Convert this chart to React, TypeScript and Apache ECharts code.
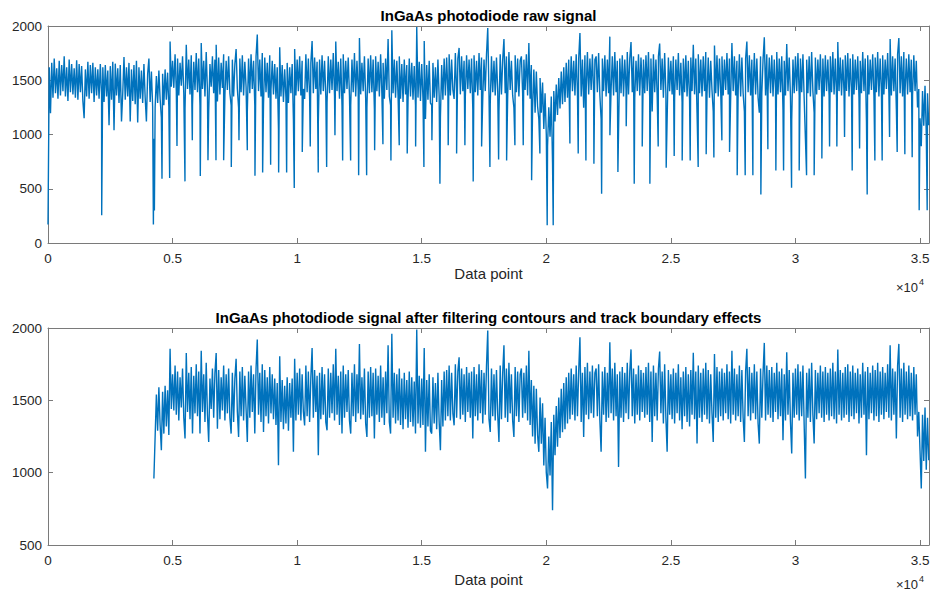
import React, { useEffect, useRef } from "react";
import * as echarts from "echarts";

// sample spacing of the band values (data points)
const STEP = 50;
const X_MAX = 35360;
const FILTER_START = 4250;

// photodiode signal band (one value every STEP data points)
const rawBand: number[] = [
  170, 1620, 1195, 1660, 1340, 1700, 1380, 1610, 1330, 1680, 1360, 1640, 1400, 1720, 1350, 1620, 1310, 1690, 1390, 1650,
  1370, 1610, 1340, 1684, 1320, 1650, 1390, 1630, 1310, 1150, 1600, 1350, 1670, 1330, 1640, 1380, 1660, 1300, 1620, 1360,
  1600, 1330, 1650, 1370, 1620, 1300, 1640, 1350, 1590, 1085, 1630, 1320, 1670, 1040, 1653, 1360, 1610, 1290, 1640, 1120,
  1380, 1714, 1320, 1620, 1350, 1660, 1120, 1600, 1310, 1640, 1280, 1680, 1110, 1620, 1330, 1590, 1290, 1650, 1340, 1120,
  1560, 1700, 1300, 1580, 1260, 960, 1250, 1540, 1290, 1590, 1330, 1155, 1560, 1270, 1600, 1320, 1570, 1260, 1857, 1440,
  1680, 1430, 1740, 1400, 1700, 1360, 1660, 1450, 1720, 1380, 1236, 1827, 1420, 1690, 1370, 1730, 1270, 1670, 1410, 1750,
  1390, 1700, 1270, 1843, 1420, 1680, 1350, 1760, 1400, 1212, 1650, 1440, 1720, 1380, 1690, 1827, 1304, 1710, 1370, 1660,
  1430, 1740, 1360, 1680, 1410, 1720, 1380, 1270, 1690, 1350, 1650, 1787, 1420, 1247, 1700, 1390, 1730, 1360, 1670, 1440,
  1212, 1700, 1380, 1740, 1420, 1680, 1270, 1720, 1921, 1400, 1690, 1350, 1750, 1281, 1710, 1390, 1660, 1340, 1730, 1410,
  1680, 1370, 1650, 1330, 1620, 1052, 1805, 1350, 1640, 1300, 1600, 1340, 1660, 1290, 1620, 1380, 1650, 1144, 1787, 1360,
  1690, 1400, 1720, 1360, 1680, 1420, 1327, 1740, 1390, 1700, 1350, 1660, 1862, 1380, 1710, 1420, 1670, 1121, 1690, 1370,
  1730, 1400, 1680, 1350, 1293, 1720, 1380, 1690, 1410, 1750, 1360, 1857, 1400, 1670, 1330, 1700, 1270, 1740, 1380, 1680,
  1420, 1710, 1360, 1270, 1690, 1390, 1750, 1350, 1680, 1410, 1890, 1370, 1660, 1400, 1720, 1340, 1247, 1700, 1380, 1730,
  1390, 1690, 1236, 1720, 1400, 1670, 1350, 1740, 1380, 1660, 1330, 1700, 1410, 1880, 1350, 1270, 1960, 1380, 1690, 1340,
  1680, 1360, 1720, 1330, 1650, 1300, 1690, 1370, 1640, 1310, 1700, 1350, 1660, 1320, 1630, 1270, 1990, 1340, 1670, 1310,
  1650, 1330, 1862, 1144, 1640, 1320, 1680, 1290, 1270, 1660, 1340, 1620, 1300, 1690, 1350, 1155, 1640, 1320, 1700, 1360,
  1710, 1390, 1740, 1360, 1690, 1410, 1327, 1750, 1380, 1700, 1798, 1370, 1720, 1400, 1680, 1350, 1730, 1420, 1690, 1380,
  1700, 1236, 1730, 1390, 1680, 1360, 1750, 1410, 1710, 1340, 1690, 1400, 1740, 1982, 1370, 1281, 1720, 1390, 1680, 1360,
  1710, 1400, 1212, 1740, 1370, 1690, 1880, 1380, 1720, 1350, 1760, 1410, 1680, 1360, 1247, 1730, 1390, 1700, 1350, 1680,
  1720, 1380, 1690, 1410, 1740, 1360, 1843, 1330, 1640, 1250, 1600, 1200, 1580, 1260, 1144, 1520, 1200, 1480, 1050, 1380,
  1000, 891, 1250, 980, 1350, 741, 1400, 1120, 1460, 1180, 1520, 1240, 1580, 1280, 1620, 1300, 1660, 1340, 1690, 1370,
  1720, 1400, 1680, 1360, 1740, 1390, 1700, 1936, 1350, 1690, 1247, 1730, 1400, 1760, 1370, 1700, 1410, 1740, 1380, 1690,
  1720, 1390, 1750, 1360, 1144, 1700, 1400, 1730, 1350, 1690, 1380, 1902, 1410, 1720, 1360, 1760, 1390, 1680, 1040, 1700,
  1380, 1730, 1350, 1690, 1410, 1760, 1370, 1700, 1852, 1390, 1720, 1340, 1680, 1400, 1740, 1360, 1710, 1420, 1690, 1380,
  1730, 1400, 1760, 1350, 1700, 1212, 1740, 1390, 1690, 1360, 1720, 1838, 1410, 1700, 1340, 1750, 1380, 1144, 1710, 1400,
  1680, 1370, 1720, 1340, 1690, 1410, 1750, 1360, 1660, 1300, 1700, 1390, 1730, 1350, 1680, 1320, 1710, 1400, 1828, 1370,
  1700, 1201, 1740, 1380, 1690, 1350, 1720, 1400, 1760, 1370, 1710, 1340, 1680, 1410, 1212, 1821, 1380, 1730, 1350, 1700,
  1390, 1720, 1360, 1690, 1410, 1750, 1370, 1700, 1340, 1843, 1400, 1720, 1360, 1680, 1390, 1740, 1350, 1710, 1380, 1212,
  1700, 1857, 1390, 1730, 1360, 1690, 1410, 1750, 1370, 1700, 1340, 1201, 1720, 1380, 1690, 1897, 1360, 1740, 1400, 1710,
  1380, 1730, 1350, 1690, 1420, 1760, 1370, 1700, 1390, 1720, 1224, 1680, 1360, 1833, 1400, 1710, 1350, 1132, 1690, 1380,
  1720, 1400, 1750, 1360, 1700, 1390, 1740, 1330, 960, 1690, 1380, 1720, 1350, 1760, 1400, 1201, 1710, 1370, 1690, 1410,
  1740, 1380, 1700, 1350, 1730, 1400, 1690, 1360, 1720, 1390, 1760, 1370, 1700, 1340, 1852, 1400, 1710, 1360, 1690, 1380,
  1730, 1400, 1750, 1350, 1700, 1390, 1740, 1370, 1690, 1410, 1720, 1340, 1680, 1380, 1760, 1400, 1700, 1121, 1730, 1370,
  1690, 1410, 1740, 1360, 1710, 1390, 1760, 1350, 1700, 1400, 1730, 1370, 1690, 1420, 1750, 1380, 1880, 1360, 1720, 1400,
  1700, 1236, 1740, 1890, 1380, 1720, 1350, 1760, 1400, 1700, 1370, 1740, 1390, 1690, 1360, 1730, 1400, 1680, 1250, 1420,
  1150, 891, 1400, 1080, 1450, 1020, 1380, 1086,
];

// contour / boundary dips present only in the raw signal: [data point, value]
const contourDips: [number, number][] = [
  [2155, 255], [4230, 170], [4270, 300], [4575, 593], [4883, 600], [5177, 894], [5498, 568], [5792, 946],
  [6113, 618], [6421, 762], [6742, 762], [7050, 762], [7357, 700], [7665, 946], [7999, 854], [8307, 620],
  [8615, 649], [8936, 722], [9257, 650], [9578, 650], [9884, 507], [10205, 839], [10526, 890], [10847, 650],
  [11184, 700], [11517, 993], [11826, 760], [12147, 760], [12468, 624], [12789, 624], [13110, 854], [13443, 910],
  [13764, 760], [14097, 900], [14418, 824], [14755, 890], [15088, 700], [15409, 946], [15730, 547], [16063, 900],
  [16400, 824], [16733, 900], [17066, 568], [17403, 890], [17737, 700], [18086, 770], [18407, 760], [18740, 900],
  [19074, 900], [19411, 578], [19743, 824], [20036, 163], [20277, 163], [20947, 917], [21281, 824], [21590, 760],
  [21911, 731], [22220, 455], [22553, 993], [22874, 654], [23208, 1075], [23529, 547], [23850, 890], [24157, 547],
  [24491, 890], [24812, 694], [25133, 802], [25454, 760], [25775, 760], [26096, 700], [26417, 818], [26726, 788],
  [27047, 946], [27355, 839], [27662, 624], [27983, 624], [28291, 624], [28612, 446], [28893, 863], [29214, 669],
  [29523, 669], [29844, 509], [30150, 669], [30446, 624], [30751, 624], [31060, 778], [31369, 890], [31662, 890],
  [31970, 977], [32277, 669], [32574, 872], [32879, 446], [33188, 760], [33480, 760], [33777, 977], [34083, 839],
  [34391, 818], [34685, 790], [34966, 301], [35287, 301],
];

const titles = [
  "InGaAs photodiode raw signal",
  "InGaAs photodiode signal after filtering contours and track boundary effects",
];
const xLabelOffsets = [30, 34];
const unitOffsets = [44, 39];
const yRanges: [number, number][] = [[0, 2000], [500, 2000]];
const xTickStep = 5000;
const yTickStep = 500;

const gridTops = [26, 328];
const gridHeight = 217;
const gridLeft = 48;
const gridWidth = 881;

const AXIS_COLOR = "#7a7a7a";
const LABEL_COLOR = "#262626";
const LINE_COLOR = "#0072BD";
const FONT = "'Liberation Sans', Arial, Helvetica, sans-serif";

export default function App() {
  const ref = useRef<HTMLDivElement>(null);

  useEffect(() => {
    if (!ref.current) return;
    const chart = echarts.init(ref.current, null, { renderer: "svg" });

    const bandPts: [number, number][] = rawBand.map((v, i) => [i * STEP, v]);
    const rawSeries = [...bandPts, ...contourDips].sort((a, b) => a[0] - b[0]);
    const filteredSeries = bandPts.filter((p) => p[0] >= FILTER_START);

    const grids = gridTops.map((t) => ({
      left: gridLeft,
      top: t,
      width: gridWidth,
      height: gridHeight,
      containLabel: false,
    }));

    const xAxes: any[] = [];
    const yAxes: any[] = [];
    [0, 1].forEach((g) => {
      const baseX = {
        gridIndex: g,
        type: "value",
        min: 0,
        max: X_MAX,
        interval: xTickStep,
        splitLine: { show: false },
        axisLine: { show: true, onZero: false, lineStyle: { color: AXIS_COLOR, width: 1 } },
        axisTick: { show: true, inside: true, length: 5, lineStyle: { color: AXIS_COLOR, width: 1 } },
      };
      xAxes.push({
        ...baseX,
        position: "bottom",
        axisLabel: {
          show: true,
          color: LABEL_COLOR,
          fontSize: 13.5,
          fontFamily: FONT,
          margin: 8,
          formatter: (v: number) => (v % xTickStep === 0 ? String(v / 10000) : ""),
        },
      });
      xAxes.push({ ...baseX, position: "top", axisLabel: { show: false } });

      const baseY = {
        gridIndex: g,
        type: "value",
        min: yRanges[g][0],
        max: yRanges[g][1],
        interval: yTickStep,
        splitLine: { show: false },
        axisLine: { show: true, onZero: false, lineStyle: { color: AXIS_COLOR, width: 1 } },
        axisTick: { show: true, inside: true, length: 5, lineStyle: { color: AXIS_COLOR, width: 1 } },
      };
      yAxes.push({
        ...baseY,
        position: "left",
        axisLabel: {
          show: true,
          color: LABEL_COLOR,
          fontSize: 13.5,
          fontFamily: FONT,
          margin: 6,
          formatter: (v: number) => String(v),
        },
      });
      yAxes.push({ ...baseY, position: "right", axisLabel: { show: false } });
    });

    const texts: any[] = [];
    titles.forEach((t, g) => {
      texts.push({
        type: "text",
        x: gridLeft + gridWidth / 2,
        y: gridTops[g] - 11,
        style: {
          text: t,
          fill: "#000",
          font: `bold 15px ${FONT}`,
          textAlign: "center",
          textVerticalAlign: "middle",
        },
      });
      const axisBottom = gridTops[g] + gridHeight;
      texts.push({
        type: "text",
        x: gridLeft + gridWidth / 2,
        y: axisBottom + xLabelOffsets[g],
        style: {
          text: "Data point",
          fill: LABEL_COLOR,
          font: `15px ${FONT}`,
          textAlign: "center",
          textVerticalAlign: "middle",
        },
      });
      texts.push({
        type: "text",
        x: 918,
        y: axisBottom + unitOffsets[g],
        style: {
          text: "\u00d710",
          fill: LABEL_COLOR,
          font: `13px ${FONT}`,
          textAlign: "right",
          textVerticalAlign: "middle",
        },
      });
      texts.push({
        type: "text",
        x: 919,
        y: axisBottom + unitOffsets[g] - 5,
        style: {
          text: "4",
          fill: LABEL_COLOR,
          font: `9px ${FONT}`,
          textAlign: "left",
          textVerticalAlign: "middle",
        },
      });
    });

    chart.setOption({
      animation: false,
      backgroundColor: "#fff",
      grid: grids,
      xAxis: xAxes,
      yAxis: yAxes,
      graphic: texts,
      series: [
        {
          type: "line",
          xAxisIndex: 0,
          yAxisIndex: 0,
          data: rawSeries,
          showSymbol: false,
          symbol: "none",
          clip: true,
          lineStyle: { color: LINE_COLOR, width: 1.4 },
        },
        {
          type: "line",
          xAxisIndex: 2,
          yAxisIndex: 2,
          data: filteredSeries,
          showSymbol: false,
          symbol: "none",
          clip: true,
          lineStyle: { color: LINE_COLOR, width: 1.4 },
        },
      ],
    });

    return () => chart.dispose();
  }, []);

  return (
    <div
      ref={ref}
      style={{ position: "fixed", left: 0, top: 0, width: 933, height: 594, background: "#fff" }}
    />
  );
}
